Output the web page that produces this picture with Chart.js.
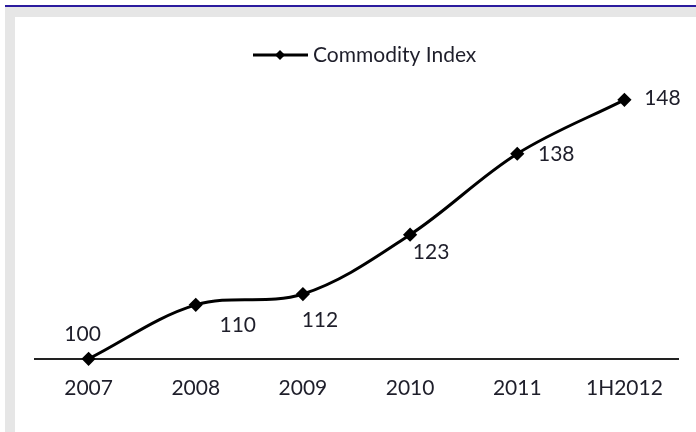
<!DOCTYPE html>
<html>
<head>
<meta charset="utf-8">
<script src="https://cdn.jsdelivr.net/npm/chart.js@4.4.0/dist/chart.umd.min.js"></script>
<style>
  html, body { margin: 0; padding: 0; background: #fff; }
  #page { position: relative; width: 696px; height: 432px; overflow: hidden; }
  #rule { position: absolute; left: 5px; top: 5px; width: 691px; height: 2px; background: #2b1b9e; }
  #frame { position: absolute; left: 5px; top: 7px; width: 691px; height: 425px; background: #e6e6e6; }
  #inner { position: absolute; left: 15px; top: 17px; width: 681px; height: 415px; background: #fff; }
  #chart { position: absolute; left: 0; top: 0; }
</style>
</head>
<body>
<div id="page">
  <div id="rule"></div>
  <div id="frame"></div>
  <div id="inner"></div>
  <canvas id="chart" width="696" height="432"></canvas>
</div>
<script>
const categories = ['2007', '2008', '2009', '2010', '2011', '1H2012'];
const indexValues = [100, 110, 112, 123, 138, 148];
const seriesName = 'Commodity Index';

const FONT = 'Lato, "Open Sans", sans-serif';
const TEXT_COLOR = '#1e1e2a';

// where each value label sits relative to its point (px)
const labelOffsets = [[-6, -25], [42, 20], [17, 26], [21, 18], [39, 0], [38, -2]];

const valueLabels = {
    id: 'valueLabels',
    afterDatasetsDraw(chart) {
        const ctx = chart.ctx;
        const meta = chart.getDatasetMeta(0);
        ctx.save();
        ctx.font = '21px ' + FONT;
        ctx.fillStyle = TEXT_COLOR;
        ctx.textAlign = 'center';
        ctx.textBaseline = 'middle';
        meta.data.forEach((pt, i) => {
            const [dx, dy] = labelOffsets[i];
            ctx.fillText(String(indexValues[i]), pt.x + dx, pt.y + dy);
        });
        ctx.restore();
    }
};

// legend: line with diamond marker + text
const lineLegend = {
    id: 'lineLegend',
    afterDraw(chart) {
        const ctx = chart.ctx;
        const y = 55;
        ctx.save();
        ctx.strokeStyle = '#000';
        ctx.lineWidth = 3;
        ctx.beginPath();
        ctx.moveTo(253, y);
        ctx.lineTo(308, y);
        ctx.stroke();
        ctx.fillStyle = '#000';
        ctx.beginPath();
        ctx.moveTo(280, y - 5);
        ctx.lineTo(285, y);
        ctx.lineTo(280, y + 5);
        ctx.lineTo(275, y);
        ctx.closePath();
        ctx.fill();
        ctx.font = '21px ' + FONT;
        ctx.fillStyle = TEXT_COLOR;
        ctx.textAlign = 'left';
        ctx.textBaseline = 'middle';
        ctx.fillText(seriesName, 313, y);
        ctx.restore();
    }
};

new Chart(document.getElementById('chart'), {
    type: 'line',
    data: {
        labels: categories,
        datasets: [{
            label: seriesName,
            data: indexValues,
            borderColor: '#000',
            backgroundColor: '#000',
            borderWidth: 3,
            tension: 0.35,
            pointStyle: 'rectRot',
            pointRadius: 5,
            pointBackgroundColor: '#000',
            pointBorderColor: '#000',
            clip: false
        }]
    },
    options: {
        responsive: false,
        animation: false,
        layout: { padding: { left: 35, right: 18, top: 89, bottom: 14 } },
        scales: {
            x: {
                offset: true,
                grid: { display: false, drawTicks: false },
                border: { display: true, color: '#222', width: 2 },
                ticks: { color: TEXT_COLOR, font: { family: FONT, size: 21 }, padding: 17, maxRotation: 0 }
            },
            y: {
                display: false,
                min: 100,
                max: 150
            }
        },
        plugins: {
            legend: { display: false },
            tooltip: { enabled: false }
        }
    },
    plugins: [valueLabels, lineLegend]
});
</script>
</body>
</html>
